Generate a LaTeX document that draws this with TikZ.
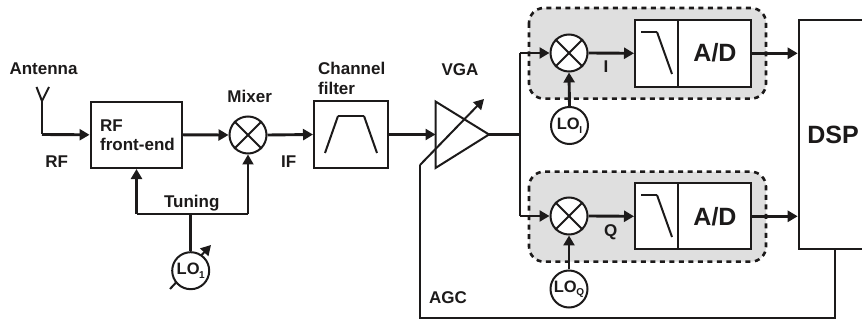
\documentclass[tikz,border=0pt]{standalone}
\usepackage{fontspec}
\setmainfont{Liberation Sans}
\usetikzlibrary{arrows.meta,calc}
\definecolor{ink}{HTML}{1C1A1A}
\definecolor{panel}{HTML}{DFDFDF}
\tikzset{
  lbl/.style={anchor=base,inner sep=0pt,font=\fontsize{17}{18}\selectfont\bfseries,text=ink},
  lblleft/.style={lbl,anchor=base west},
  big/.style={lbl,font=\fontsize{25}{26}\selectfont\bfseries},
  thickline/.style={draw=ink,line width=2.9pt},
  thinline/.style={draw=ink,line width=2pt},
  arrowline/.style={thickline,-{Triangle[length=10pt,width=11pt]}},
  arrowthin/.style={thinline,-{Triangle[length=10pt,width=11pt]}},
  blockbox/.style={draw=ink,line width=2pt,fill=white,inner sep=0pt},
  circ/.style={circle,draw=ink,line width=2pt,fill=white,minimum size=37pt,inner sep=0pt,text=ink,font=\fontsize{16.5}{18}\selectfont\bfseries},
  panelbox/.style={draw=ink,fill=panel,line width=2.6pt,dash pattern=on 5pt off 4.5pt,rounded corners=15pt},
}
\newcommand{\lowidx}[1]{\hspace{-0.5pt}\raisebox{-3.5pt}{\fontsize{10}{10}\selectfont #1}}
\begin{document}
\begin{tikzpicture}[x=1pt,y=-1pt]
\useasboundingbox (0,0) rectangle (862,320);
\clip (0,0) rectangle (862,320);
% panels
\path[panelbox] (529,8) rectangle (766,98.7);
\path[panelbox] (529,171.7) rectangle (766,261.7);
% tunable arrow behind the LO1 circle
\coordinate (loa) at (170,289);
\coordinate (lob) at (211,245);
\draw[thinline,-{Triangle[length=10pt,width=11pt]}] (loa) -- (lob);
% blocks
\node[blockbox,minimum width=91.5pt,minimum height=66.5pt] (rf) at (136.3,134.8) {};
\node[blockbox,minimum width=74pt,minimum height=67pt] (filt) at (351,134.5) {};
\node[blockbox,minimum width=43pt,minimum height=66.7pt] (lpfi) at (656.5,53.3) {};
\node[blockbox,minimum width=73pt,minimum height=66.7pt] (adi) at (714.5,53.3) {};
\node[blockbox,minimum width=43pt,minimum height=66pt] (lpfq) at (656.5,216.3) {};
\node[blockbox,minimum width=73pt,minimum height=66pt] (adq) at (714.5,216.3) {};
\node[blockbox,minimum width=90pt,minimum height=229.5pt] (dsp) at (843.7,134.7) {};
% circles
\node[circ] (mix) at (248,135) {};
\node[circ] (mixi) at (569,53) {};
\node[circ] (mixq) at (569,216) {};
\node[circ] (lo1) at (190.7,270.7) {LO\lowidx{1}};
\node[circ] (loi) at (569.5,125.5) {LO\lowidx{I}};
\node[circ] (loq) at (569,289) {LO\lowidx{Q}};
\foreach \m in {mix,mixi,mixq}{
  \draw[thinline] (\m.45) -- (\m.225);
  \draw[thinline] (\m.135) -- (\m.315);
}
% VGA
\coordinate (va) at (435.5,101.5);
\coordinate (vb) at (435.5,168);
\coordinate (vc) at (489,134.5);
\coordinate (vin) at (435.5,134.5);
\draw[thinline,line join=miter] (va) -- (vb) -- (vc) -- cycle;
% filter glyphs
\draw[thinline] (325,153) -- (338,116);
\draw[thickline] (338,116) -- (364,116);
\draw[thinline] (364,116) -- (377,153);
\draw[thickline] (641,32) -- (657,32);
\draw[thinline] (657,32) -- (672,74);
\draw[thickline] (641,195) -- (657,195);
\draw[thinline] (657,195) -- (672,237);
% antenna
\coordinate (anttip) at (42,101);
\coordinate (antl) at (36.5,87);
\coordinate (antr) at (49,87);
\coordinate (antc) at (42,134.5);
\draw[thinline] (antl) -- (anttip) -- (antr);
\draw[thickline] (anttip) -- (antc);
\draw[arrowline] (antc) -- (rf.west);
% main chain
\draw[arrowline] (rf.east) -- (mix.west);
\draw[arrowline] (mix.east) -- (filt.west);
\draw[arrowline] (filt.east) -- (vin);
\coordinate (split) at (520,134.5);
\coordinate (spliti) at (520,53);
\coordinate (splitq) at (520,216);
\draw[thickline] (vc) -- (split);
\draw[thickline] (spliti) -- (splitq);
\draw[arrowline] (spliti) -- (mixi.west);
\draw[arrowline] (splitq) -- (mixq.west);
\draw[arrowline] (mixi.east) -- (lpfi.west);
\draw[arrowline] (mixq.east) -- (lpfq.west);
\draw[arrowline] (adi.east) -- (dsp.west |- adi.east);
\draw[arrowline] (adq.east) -- (dsp.west |- adq.east);
\draw[arrowline] (loi.north) -- (mixi.south);
\draw[arrowline] (loq.north) -- (mixq.south);
% tuning
\coordinate (tun) at (190.7,213.7);
\coordinate (tunl) at (136.5,213.7);
\coordinate (tunr) at (248,213.7);
\draw[thickline] (lo1.north) -- (tun);
\draw[thinline] (tunl) -- (tunr);
\draw[arrowline] (tunl) -- (rf.south -| tunl);
\draw[arrowthin] (tunr) -- (mix.south);
% AGC
\coordinate (agca) at (484,99);
\coordinate (agcb) at (420,165);
\coordinate (agcc) at (420,318.5);
\coordinate (agcd) at (835,318.5);
\draw[thinline,-{Triangle[length=10pt,width=11pt]}] (agcb) -- (agca);
\draw[thinline] (agcb) -- (agcc) -- (agcd) -- (agcd |- dsp.south);
% labels
\node[lbl] (tant) at (43.5,75) {Antenna};
\node[lbl] (trf) at (56.7,167.7) {RF};
\node[lblleft] (trf1) at (100,131.7) {RF};
\node[lblleft] (trf2) at (100,151) {front-end};
\node[lbl] (tmix) at (249.7,102.3) {Mixer};
\node[lbl] (tif) at (288.7,167.7) {IF};
\node[lbl] (ttun) at (191.7,208) {Tuning};
\node[lblleft] (tch) at (318,75) {Channel};
\node[lblleft] (tfi) at (318,94.3) {filter};
\node[lbl] (tvga) at (460,75.3) {VGA};
\node[lbl] (tagc) at (448,304) {AGC};
\node[lbl] (ti) at (606,72.7) {I};
\node[lbl] (tq) at (610.7,236.7) {Q};
\node[big] (tdsp) at (833,144) {DSP};
\node[big] (tad1) at (715,61.7) {A/D};
\node[big] (tad2) at (715,226) {A/D};
\end{tikzpicture}
\end{document}
